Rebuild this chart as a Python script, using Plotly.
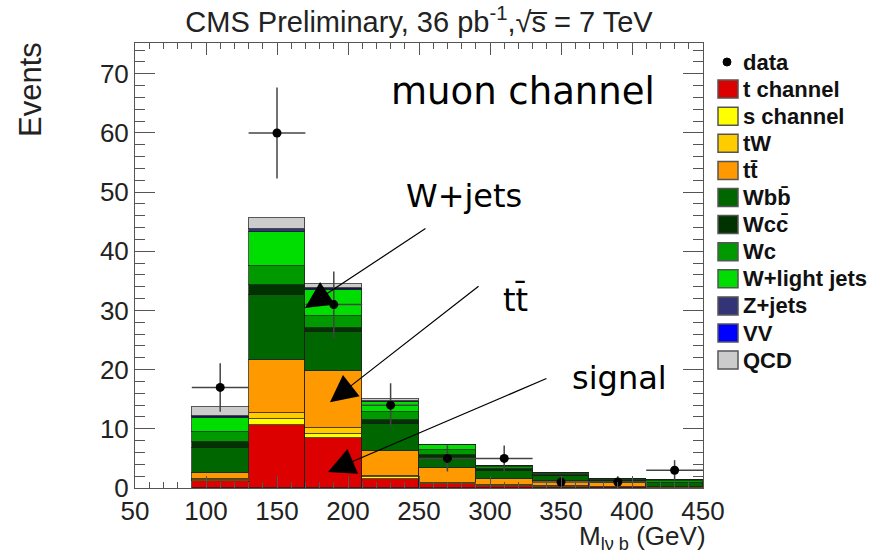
import plotly.graph_objects as go

# ---------------- data ----------------
bin_centers = [110, 150, 190, 230, 270, 310, 350, 390, 430]
bin_width = [40] * 9
half_width = [20] * 9

t_channel = [1.1, 10.6, 8.4, 1.5, 0.6, 0.3, 0.2, 0.1, 0.05]
s_channel = [0.2, 1.0, 0.8, 0.3, 0.1, 0.05, 0.05, 0.0, 0.0]
tW = [0.2, 1.0, 0.9, 0.2, 0.2, 0.15, 0.1, 0.1, 0.05]
ttbar = [1.1, 9.0, 9.7, 4.3, 2.4, 1.0, 0.75, 0.6, 0.1]
Wbb = [4.1, 11.0, 6.6, 4.6, 1.55, 1.4, 0.9, 0.4, 0.6]
Wcc = [1.1, 1.7, 0.7, 0.6, 0.75, 0.3, 0.2, 0.2, 0.1]
Wc = [1.7, 3.2, 1.9, 1.4, 0.8, 0.3, 0.2, 0.1, 0.2]
W_light = [2.3, 5.8, 4.5, 1.7, 0.8, 0.2, 0.1, 0.1, 0.3]
Z_jets = [0.2, 0.4, 0.2, 0.1, 0.05, 0.05, 0.0, 0.0, 0.0]
VV = [0.1, 0.1, 0.1, 0.05, 0.05, 0.05, 0.0, 0.0, 0.0]
QCD = [1.6, 1.9, 0.7, 0.25, 0.0, 0.0, 0.0, 0.0, 0.0]

data_counts = [17, 60, 31, 14, 5, 5, 1, 1, 3]
data_err = [4.1, 7.7, 5.6, 3.7, 2.2, 2.2, 1.0, 1.0, 1.7]

x_ticks = [50, 100, 150, 200, 250, 300, 350, 400, 450]
y_ticks = [0, 10, 20, 30, 40, 50, 60, 70]

legend_names = ["t channel", "s channel", "tW", "tt\u0304", "Wbb\u0304", "Wcc\u0304",
                "Wc", "W+light jets", "Z+jets", "VV", "QCD"]
legend_colors = ["#dc0000", "#ffff00", "#ffcc00", "#ff9900", "#006600", "#003300",
                 "#009900", "#00dd00", "#333377", "#0000ff", "#cccccc"]
component_values = [t_channel, s_channel, tW, ttbar, Wbb, Wcc, Wc, W_light, Z_jets, VV, QCD]

# ---------------- layout geometry ----------------
W, H = 872, 555
ML, MR, MT, MB = 135, 169, 43, 67
PW, PH = W - ML - MR, H - MT - MB


def px_x(px):
    return (px - ML) / PW


def px_y(py):
    return (H - MB - py) / PH


fig = go.Figure()

fig.add_trace(go.Scatter(
    x=bin_centers, y=data_counts, mode="markers", name="data",
    marker=dict(color="black", size=9),
    error_x=dict(type="data", array=half_width, width=0, thickness=1.5, color="#444"),
    error_y=dict(type="data", array=data_err, width=0, thickness=1.5, color="#444"),
    showlegend=False,
))

for name, vals, col in zip(legend_names, component_values, legend_colors):
    fig.add_trace(go.Bar(
        x=bin_centers, y=vals, width=bin_width, name=name, showlegend=False,
        marker=dict(color=col, line=dict(color="rgba(30,30,30,0.75)", width=1)),
    ))

FONT = "Liberation Sans, Arial, sans-serif"
ANN = "DejaVu Sans, Verdana, sans-serif"

fig.update_layout(
    width=W, height=H,
    margin=dict(l=ML, r=MR, t=MT, b=MB),
    barmode="stack", bargap=0,
    plot_bgcolor="white", paper_bgcolor="white",
    font=dict(family=FONT, color="#222"),
    showlegend=False,
    title=dict(
        text="CMS Preliminary, 36 pb<sup>-1</sup>,\u221as\u0305 = 7 TeV",
        x=0.5, xref="paper", xanchor="center",
        y=1 - 22 / H, yref="container", yanchor="middle",
        font=dict(family=FONT, size=29, color="#222"),
    ),
)

fig.update_xaxes(
    range=[50, 450], tickvals=x_ticks, ticktext=[str(v) for v in x_ticks],
    ticks="inside", ticklen=12, tickcolor="#555", tickwidth=1,
    minor=dict(ticks="inside", ticklen=6, dtick=10, tick0=50, tickcolor="#555"),
    showline=True, linecolor="#555", linewidth=1, mirror="allticks",
    showgrid=False, zeroline=False,
    tickfont=dict(family=FONT, size=26, color="#222"),
)
fig.update_yaxes(
    range=[0, 75.2], tickvals=y_ticks, ticktext=[str(v) for v in y_ticks],
    ticks="inside", ticklen=20, tickcolor="#555", tickwidth=1,
    minor=dict(ticks="inside", ticklen=10, dtick=2, tick0=0, tickcolor="#555"),
    showline=True, linecolor="#555", linewidth=1, mirror="allticks",
    showgrid=False, zeroline=False,
    tickfont=dict(family=FONT, size=26, color="#222"),
)

# axis titles
fig.add_annotation(text="Events", xref="paper", yref="paper", x=px_x(30), y=px_y(90),
                   textangle=-90, showarrow=False, xanchor="center", yanchor="middle",
                   font=dict(family=FONT, size=31, color="#222"))
fig.add_annotation(text="M<sub>l\u03bd b</sub> (GeV)", xref="paper", yref="paper",
                   x=px_x(707), y=px_y(520), showarrow=False, xanchor="right", yanchor="top",
                   borderpad=0,
                   font=dict(family=FONT, size=26, color="#222"))

# in-plot labels
fig.add_annotation(text="muon channel", x=323.5, y=67, showarrow=False,
                   font=dict(family=ANN, size=37, color="black"))
fig.add_annotation(text="W+jets", x=282, y=49.3, showarrow=False,
                   font=dict(family=ANN, size=32, color="black"))
fig.add_annotation(text="tt\u0304", x=318, y=31.8, showarrow=False,
                   font=dict(family=ANN, size=32, color="black"))
fig.add_annotation(text="signal", x=391.5, y=18.6, showarrow=False,
                   font=dict(family=ANN, size=32, color="black"))

# arrows (tail -> head) in data coordinates
arrows = [((255.6, 44.0), (169.7, 30.4)),
          ((293.0, 34.3), (187.3, 14.5)),
          ((340.8, 18.6), (185.9, 2.7))]
for (tx, ty), (hx, hy) in arrows:
    fig.add_annotation(x=hx, y=hy, ax=tx, ay=ty, axref="x", ayref="y",
                       xref="x", yref="y", text="", showarrow=True,
                       arrowhead=2, arrowsize=4.5, arrowwidth=1.2, arrowcolor="black")

# ---------------- custom legend (ROOT style) ----------------
row0, row_step = 62, 27.1
LEG_FONT = dict(family=FONT, size=22, color="#111", weight="bold")
# data entry
fig.add_shape(type="circle", xref="paper", yref="paper",
              x0=px_x(723), x1=px_x(731), y0=px_y(row0 + 4), y1=px_y(row0 - 4),
              fillcolor="black", line=dict(color="black", width=1))
fig.add_annotation(text="data", xref="paper", yref="paper", x=px_x(742), y=px_y(row0),
                   xanchor="left", yanchor="middle", showarrow=False, borderpad=0,
                   font=LEG_FONT)
for i, (name, col) in enumerate(zip(legend_names, legend_colors)):
    cy = row0 + (i + 1) * row_step
    fig.add_shape(type="rect", xref="paper", yref="paper",
                  x0=px_x(718), x1=px_x(738), y0=px_y(cy + 9), y1=px_y(cy - 9),
                  fillcolor=col, line=dict(color="#555", width=1.5))
    fig.add_annotation(text=name, xref="paper", yref="paper", x=px_x(742), y=px_y(cy),
                       xanchor="left", yanchor="middle", showarrow=False, borderpad=0,
                       font=LEG_FONT)

fig.write_html("out.html")
